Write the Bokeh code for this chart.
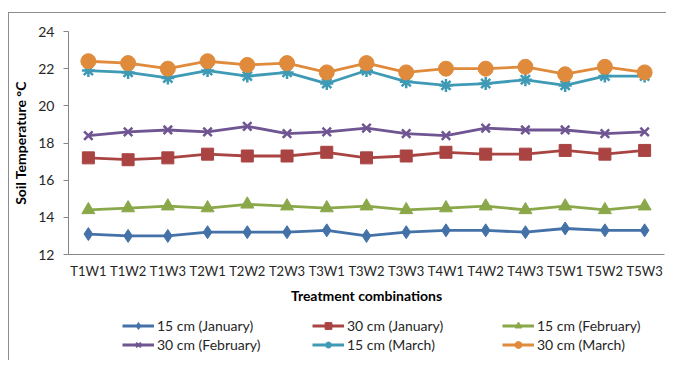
from bokeh.plotting import figure
from bokeh.layouts import column
from bokeh.models import ColumnDataSource, Legend, LegendItem, Range1d, FixedTicker
from bokeh.embed import file_html
from bokeh.resources import INLINE

categories = ["T1W1", "T1W2", "T1W3", "T2W1", "T2W2", "T2W3", "T3W1", "T3W2",
              "T3W3", "T4W1", "T4W2", "T4W3", "T5W1", "T5W2", "T5W3"]

jan_15 = [13.1, 13.0, 13.0, 13.2, 13.2, 13.2, 13.3, 13.0, 13.2, 13.3, 13.3, 13.2, 13.4, 13.3, 13.3]
jan_30 = [17.2, 17.1, 17.2, 17.4, 17.3, 17.3, 17.5, 17.2, 17.3, 17.5, 17.4, 17.4, 17.6, 17.4, 17.6]
feb_15 = [14.4, 14.5, 14.6, 14.5, 14.7, 14.6, 14.5, 14.6, 14.4, 14.5, 14.6, 14.4, 14.6, 14.4, 14.6]
feb_30 = [18.4, 18.6, 18.7, 18.6, 18.9, 18.5, 18.6, 18.8, 18.5, 18.4, 18.8, 18.7, 18.7, 18.5, 18.6]
mar_15 = [21.9, 21.8, 21.5, 21.9, 21.6, 21.8, 21.2, 21.9, 21.3, 21.1, 21.2, 21.4, 21.1, 21.6, 21.6]
mar_30 = [22.4, 22.3, 22.0, 22.4, 22.2, 22.3, 21.8, 22.3, 21.8, 22.0, 22.0, 22.1, 21.7, 22.1, 21.8]

series_names = ["15 cm (January)", "30 cm (January)", "15 cm (February)",
                "30 cm (February)", "15 cm (March)", "30 cm (March)"]
series_values = [jan_15, jan_30, feb_15, feb_30, mar_15, mar_30]
colors = ["#4472A8", "#A94442", "#8AA84A", "#6F5592", "#3F9AB5", "#E08A3C"]
markers = ["diamond", "square", "triangle", "x", "asterisk", "circle"]
sizes = [13, 12, 13, 12, 13, 15]

y_ticks = [12, 14, 16, 18, 20, 22, 24]

FONT = "Lato"
TXT = "#262626"
AX = "#868686"

p = figure(x_range=categories, y_range=Range1d(12, 24), width=657, height=297,
           output_backend="svg", toolbar_location=None,
           min_border_left=58, min_border_right=2, min_border_top=18, min_border_bottom=56)
p.x_range.range_padding = 0
p.outline_line_color = None
p.xgrid.grid_line_color = None
p.ygrid.grid_line_color = None
p.background_fill_color = "white"

for name, vals, col, mk, sz in zip(series_names, series_values, colors, markers, sizes):
    src = ColumnDataSource(dict(x=categories, y=vals))
    p.line("x", "y", source=src, line_color=col, line_width=2.8)
    lw = 2.5 if mk in ("x", "asterisk") else 1
    p.scatter("x", "y", source=src, marker=mk, size=sz, fill_color=col,
              line_color=col, line_width=lw)

# y axis
p.yaxis.ticker = FixedTicker(ticks=y_ticks)
p.yaxis.axis_line_color = AX
p.yaxis.major_tick_line_color = AX
p.yaxis.major_tick_out = 5
p.yaxis.major_tick_in = 0
p.yaxis.minor_tick_line_color = None
p.yaxis.major_label_standoff = 9
p.yaxis.major_label_text_font = FONT
p.yaxis.major_label_text_font_size = "14px"
p.yaxis.major_label_text_color = TXT
p.yaxis.axis_label = "Soil Temperature \u00b0C"
p.yaxis.axis_label_text_font = FONT
p.yaxis.axis_label_text_font_size = "14px"
p.yaxis.axis_label_text_font_style = "bold"
p.yaxis.axis_label_text_color = "#000000"
p.yaxis.axis_label_standoff = 6

# x axis
p.xaxis.axis_line_color = AX
p.xaxis.major_tick_line_color = None
p.xaxis.major_tick_out = 0
p.xaxis.major_tick_in = 0
p.xaxis.major_label_standoff = 8
p.xaxis.major_label_text_font = FONT
p.xaxis.major_label_text_font_size = "13px"
p.xaxis.major_label_text_color = TXT
p.xaxis.axis_label = "Treatment combinations"
p.xaxis.axis_label_text_font = FONT
p.xaxis.axis_label_text_font_size = "14px"
p.xaxis.axis_label_text_font_style = "bold"
p.xaxis.axis_label_text_color = "#000000"
p.xaxis.axis_label_standoff = 5

# legend in its own strip below the chart (series data lie outside this strip's range)
pl = figure(x_range=categories, y_range=Range1d(0, 1), width=657, height=50,
            output_backend="svg", toolbar_location=None,
            x_axis_location=None, y_axis_location=None,
            min_border_left=0, min_border_right=0, min_border_top=0, min_border_bottom=0)
pl.grid.grid_line_color = None
pl.outline_line_color = None

items = []
for name, vals, col, mk in zip(series_names, series_values, colors, markers):
    src = ColumnDataSource(dict(x=categories, y=vals))
    lr = pl.line("x", "y", source=src, line_color=col, line_width=2.8)
    lw = 2 if mk in ("x", "asterisk") else 1
    sr = pl.scatter("x", "y", source=src, marker=mk, fill_color=col, line_color=col, line_width=lw)
    items.append(LegendItem(label=name, renderers=[lr, sr]))

legend = Legend(items=items, orientation="horizontal", nrows=2,
                location=(54, 7), padding=0, margin=0, spacing=2,
                glyph_width=32, glyph_height=17, label_height=17, label_width=153,
                label_standoff=3, border_line_color=None, background_fill_alpha=0,
                label_text_font=FONT, label_text_font_size="14px", label_text_color=TXT)
pl.add_layout(legend, "center")

layout = column(p, pl, spacing=0, margin=(12, 0, 0, 8),
                styles={"border-top": "1px solid #8c8c8c", "border-left": "1px solid #8c8c8c"})

open("out.html", "w").write(file_html(layout, INLINE))
